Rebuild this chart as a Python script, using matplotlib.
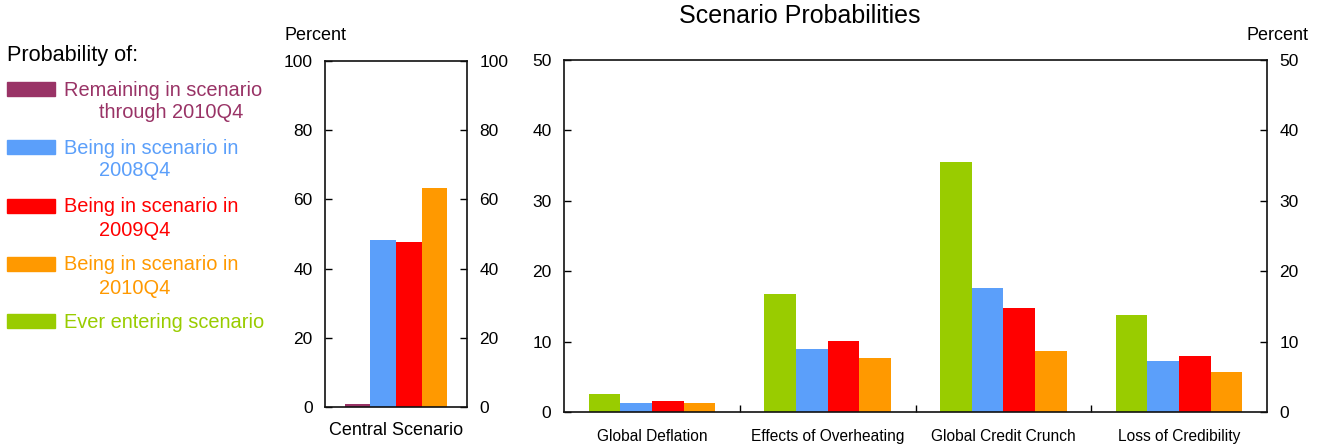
import matplotlib
matplotlib.use("Agg")
import matplotlib.pyplot as plt
from matplotlib.patches import Rectangle
import numpy as np

plt.rcParams['font.family'] = ['Liberation Sans', 'DejaVu Sans']

# series: remaining, 2008Q4, 2009Q4, 2010Q4, ever entering
legend_lines = [
    ("Remaining in scenario", "through 2010Q4"),
    ("Being in scenario in", "2008Q4"),
    ("Being in scenario in", "2009Q4"),
    ("Being in scenario in", "2010Q4"),
    ("Ever entering scenario", None),
]
colors = ["#993366", "#5b9ffa", "#ff0000", "#ff9900", "#99cc00"]

# central scenario panel (remaining, 2008Q4, 2009Q4, 2010Q4)
central_label = "Central Scenario"
central_vals = [0.8, 48.3, 47.7, 63.4]

# other scenarios (ever entering, 2008Q4, 2009Q4, 2010Q4)
scenarios = ["Global Deflation", "Effects of Overheating",
             "Global Credit Crunch", "Loss of Credibility"]
ever_entering = [2.6, 16.7, 35.5, 13.8]
in_2008q4 = [1.3, 8.9, 17.6, 7.3]
in_2009q4 = [1.6, 10.1, 14.8, 7.9]
in_2010q4 = [1.3, 7.7, 8.6, 5.7]

W, H = 1323, 446
fig = plt.figure(figsize=(W / 100, H / 100), dpi=100)


def style(ax, ymax, step):
    ax.set_ylim(0, ymax)
    ax.set_yticks(np.arange(0, ymax + 1, step))
    ax.tick_params(axis='y', which='both', direction='in', length=5,
                   left=True, right=True, labelleft=True, labelright=True,
                   labelsize=12.5, pad=9, width=1)
    for s in ax.spines.values():
        s.set_linewidth(1.2)
        s.set_color("#111111")


# left panel
ax1 = fig.add_axes([325 / W, 1 - 407 / H, 142 / W, 346 / H])
bw = 0.18
offs = (np.arange(4) - 1.5) * bw
for i, v in enumerate(central_vals):
    ax1.bar(offs[i], v, width=bw, color=colors[i], linewidth=0)
ax1.set_xlim(-0.5, 0.5)
style(ax1, 100, 20)
ax1.set_xticks([0])
ax1.set_xticklabels([central_label], fontsize=13)
ax1.tick_params(axis='x', length=0, pad=11)

# right panel
ax2 = fig.add_axes([564 / W, 1 - 412 / H, 703 / W, 352 / H])
x = np.arange(len(scenarios))
series = [ever_entering, in_2008q4, in_2009q4, in_2010q4]
scols = [colors[4], colors[1], colors[2], colors[3]]
for i, (vals, c) in enumerate(zip(series, scols)):
    ax2.bar(x + offs[i], vals, width=bw, color=c, linewidth=0)
ax2.set_xlim(-0.5, len(scenarios) - 0.5)
style(ax2, 50, 10)
ax2.set_xticks(x)
ax2.set_xticklabels(scenarios, fontsize=11.2)
ax2.set_xticks(x[:-1] + 0.5, minor=True)
ax2.tick_params(axis='x', which='major', length=0, pad=12)
ax2.tick_params(axis='x', which='minor', direction='in', length=5, width=1)

# titles and unit labels
fig.text(800 / W, 1 - 16 / H, "Scenario Probabilities", ha='center', va='center', fontsize=18)
fig.text(285 / W, 1 - 35 / H, "Percent", ha='left', va='center', fontsize=13)
fig.text(1309 / W, 1 - 35 / H, "Percent", ha='right', va='center', fontsize=13)

# legend
fig.text(7 / W, 1 - 55 / H, "Probability of:", ha='left', va='center', fontsize=15.6)
patch_y = [89, 147, 206, 264, 321]
for (l1, l2), c, py in zip(legend_lines, colors, patch_y):
    fig.patches.append(Rectangle((7 / W, 1 - (py + 7) / H), 48 / W, 14 / H,
                                 transform=fig.transFigure, color=c))
    fig.text(64 / W, 1 - (py + 1) / H, l1, ha='left', va='center', fontsize=14.4, color=c)
    if l2:
        fig.text(99 / W, 1 - (py + 24) / H, l2, ha='left', va='center', fontsize=14.4, color=c)

fig.savefig("out.png", dpi=100)
